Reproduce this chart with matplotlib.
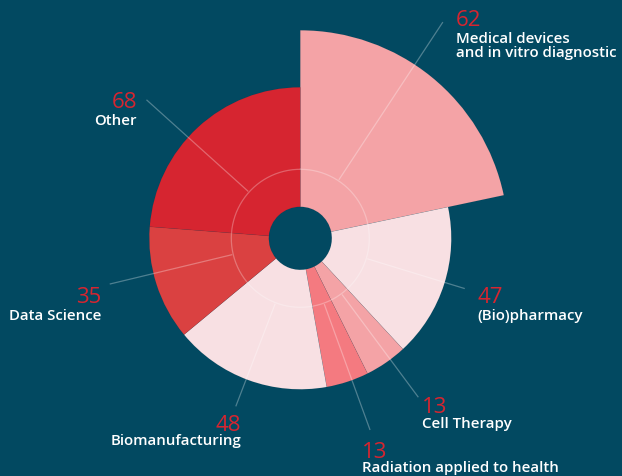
import numpy as np
import matplotlib
matplotlib.use("Agg")
import matplotlib.pyplot as plt

W, H = 622, 476
BG = "#024961"
RED = "#d62530"

# data
categories = ["Medical devices\nand in vitro diagnostic", "(Bio)pharmacy", "Cell Therapy",
              "Radiation applied to health", "Biomanufacturing", "Data Science", "Other"]
values = [62, 47, 13, 13, 48, 35, 68]
reach = [208, 151, 151, 151, 151, 151, 151]  # outer radius of each slice
colors = ["#f4a3a6", "#f8e0e3", "#f4a3a6", "#f47a80", "#f8e0e3", "#da4141", "#d62530"]

# layout: leader bearing (deg from north, clockwise), leader end radius,
# label anchor x, number baseline y, name baseline y (px from top-left)
leader_deg = [33.4, 107, 143.4, 160, 201, 256.5, 312]
leader_end = [259, 172, 198, 204, 180, 196, 207]
label_x = [456, 477, 422, 362, 241, 101, 137]
num_y = [26, 303, 413, 458, 431, 303, 108]
name_y = [43, 320, 428, 472, 445, 320, 125]
label_ha = ["left", "left", "left", "left", "right", "right", "right"]
LINE_STEP = 14

CX, CY = 300.3, 238.3  # pie centre in px
HOLE = 31.5
RING = 69
RMAX = 270


def px(x, y):
    return x / W, 1 - y / H


fig = plt.figure(figsize=(W / 100, H / 100), dpi=100, facecolor=BG)
ax = fig.add_axes([(CX - RMAX) / W, (H - CY - RMAX) / H, 2 * RMAX / W, 2 * RMAX / H],
                  projection="polar")
ax.set_theta_zero_location("N")
ax.set_theta_direction(-1)
ax.set_ylim(0, RMAX)
ax.set_facecolor("none")
ax.axis("off")

vals = np.array(values, dtype=float)
widths = vals / vals.sum() * 2 * np.pi
starts = np.concatenate([[0], np.cumsum(widths)[:-1]])
ax.bar(starts + widths / 2, np.array(reach) - HOLE, width=widths, bottom=HOLE,
       color=colors, edgecolor=(0, 0, 0, 0.06), linewidth=0.4)

# faint inner ring
t = np.linspace(0, 2 * np.pi, 400)
ax.plot(t, np.full_like(t, RING), color="white", alpha=0.28, lw=0.9)

# leader lines
for deg, r_end in zip(leader_deg, leader_end):
    th = np.deg2rad(deg)
    ax.plot([th, th], [RING + 1, r_end], color="white", alpha=0.3, lw=0.9,
            solid_capstyle="butt", clip_on=False)

for name, v, x, ny, ty, ha in zip(categories, values, label_x, num_y, name_y, label_ha):
    fig.text(*px(x, ny), str(v), color=RED, fontsize=16, family="Open Sans",
             ha=ha, va="baseline")
    for i, line in enumerate(name.split("\n")):
        fig.text(*px(x, ty + i * LINE_STEP), line, color="white", fontsize=10.8,
                 family="Open Sans", weight="semibold", ha=ha, va="baseline")

fig.savefig("out.png", dpi=100, facecolor=BG)
